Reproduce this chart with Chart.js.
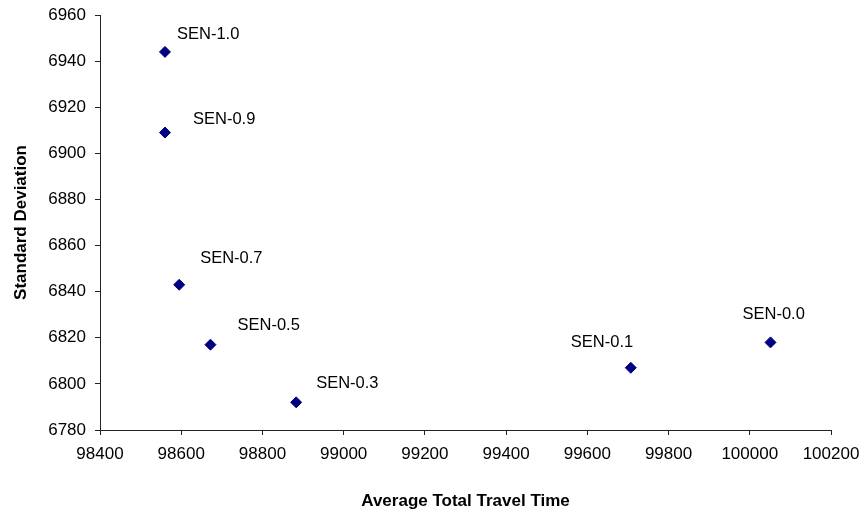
<!DOCTYPE html>
<html>
<head>
<meta charset="utf-8">
<script src="https://cdn.jsdelivr.net/npm/chart.js@4"></script>
<style>
  html, body { margin: 0; padding: 0; background: #fff; }
  #wrap { width: 862px; height: 514px; }
</style>
</head>
<body>
<div id="wrap"><canvas id="sen"></canvas></div>
<script>
// scenario results: avg total travel time vs. standard deviation
const scenarios = ['SEN-1.0', 'SEN-0.9', 'SEN-0.7', 'SEN-0.5', 'SEN-0.3', 'SEN-0.1', 'SEN-0.0'];
const travelTime = [98560, 98560, 98595, 98672, 98883, 99707, 100051];
const stdDev = [6944, 6909, 6843, 6817, 6792, 6807, 6818];

const xTicks = [98400, 98600, 98800, 99000, 99200, 99400, 99600, 99800, 100000, 100200];
const yTicks = [6780, 6800, 6820, 6840, 6860, 6880, 6900, 6920, 6940, 6960];

const FONT = "'Liberation Sans', Arial, sans-serif";

// where each name sits relative to its point (left edge, middle)
const labelOffsets = [[12, -17], [28, -13], [21, -26], [27, -19], [20, -19], [-60, -25], [-28, -28]];

const pointLabels = {
  id: 'pointLabels',
  afterDatasetsDraw(chart) {
    const ctx = chart.ctx;
    const meta = chart.getDatasetMeta(0);
    ctx.save();
    ctx.font = '16.5px ' + FONT;
    ctx.fillStyle = '#000';
    ctx.textAlign = 'left';
    ctx.textBaseline = 'middle';
    meta.data.forEach((pt, i) => {
      const [dx, dy] = labelOffsets[i];
      ctx.fillText(scenarios[i], pt.x + dx, pt.y + dy);
    });
    ctx.restore();
  }
};

const points = travelTime.map((x, i) => ({ x: x, y: stdDev[i] }));

new Chart(document.getElementById('sen'), {
  type: 'scatter',
  data: {
    datasets: [{
      data: points,
      pointStyle: 'rectRot',
      pointRadius: 5.5,
      pointHoverRadius: 5.5,
      backgroundColor: '#000080',
      borderColor: '#000080',
      borderWidth: 1
    }]
  },
  options: {
    responsive: true,
    maintainAspectRatio: false,
    animation: false,
    layout: { padding: { top: 15, right: 31, left: 0, bottom: 0 } },
    plugins: {
      legend: { display: false },
      tooltip: { enabled: false }
    },
    scales: {
      x: {
        type: 'linear',
        min: 98400,
        max: 100200,
        afterBuildTicks: s => { s.ticks = xTicks.map(v => ({ value: v })); },
        afterFit: s => { s.height = 84; s.paddingLeft = 0; s.paddingRight = 0; },
        grid: { drawOnChartArea: false, tickLength: 5, color: '#222' },
        border: { color: '#222' },
        ticks: {
          padding: 9,
          maxRotation: 0,
          color: '#000',
          font: { family: FONT, size: 17 },
          callback: v => String(v)
        },
        title: {
          display: true,
          text: 'Average Total Travel Time',
          color: '#000',
          font: { family: FONT, size: 17, weight: 'bold' },
          padding: { top: 0, bottom: 2 }
        }
      },
      y: {
        type: 'linear',
        min: 6780,
        max: 6960,
        afterBuildTicks: s => { s.ticks = yTicks.map(v => ({ value: v })); },
        afterFit: s => { s.width = 100; s.paddingTop = 0; s.paddingBottom = 0; },
        grid: { drawOnChartArea: false, tickLength: 5, color: '#222' },
        border: { color: '#222' },
        ticks: {
          padding: 9,
          color: '#000',
          font: { family: FONT, size: 17 },
          callback: v => String(v)
        },
        title: {
          display: true,
          text: 'Standard Deviation',
          color: '#000',
          font: { family: FONT, size: 17, weight: 'bold' },
          padding: { top: 11, bottom: 0 }
        }
      }
    }
  },
  plugins: [pointLabels]
});
</script>
</body>
</html>
